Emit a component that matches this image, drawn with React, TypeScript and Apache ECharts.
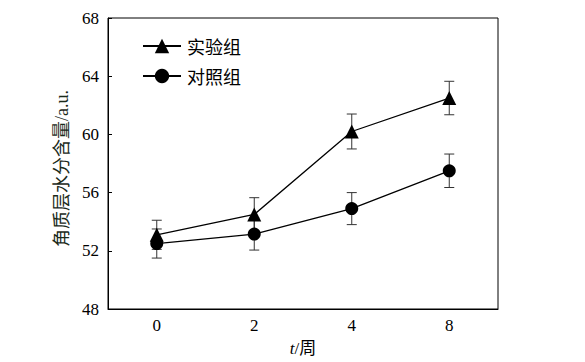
import React, { useEffect, useRef } from "react";
import * as echarts from "echarts";

const categories = ["0", "2", "4", "8"];
const expMean = [53.1, 54.5, 60.2, 62.5];
const expErr = [1.0, 1.15, 1.2, 1.15];
const ctrlMean = [52.5, 53.15, 54.9, 57.5];
const ctrlErr = [1.0, 1.1, 1.1, 1.15];
const yTicks = { min: 48, max: 68, interval: 4 };

const FONT_SERIF = "'Liberation Serif', 'DejaVu Serif', serif";
const FONT_CJK = "'Liberation Serif', 'Noto Sans CJK SC', serif";

function errorData(mean: number[], err: number[]) {
  return mean.map((m, i) => [i, m - err[i], m + err[i]]);
}

function errorSeries(name: string, mean: number[], err: number[]) {
  return {
    type: "custom",
    name: name + "_err",
    data: errorData(mean, err),
    z: 1,
    silent: true,
    renderItem: (params: any, api: any) => {
      const x = api.value(0);
      const lo = api.coord([x, api.value(1)]);
      const hi = api.coord([x, api.value(2)]);
      const w = 5;
      const style = { stroke: "#333", lineWidth: 1 };
      return {
        type: "group",
        children: [
          { type: "line", shape: { x1: hi[0], y1: hi[1], x2: lo[0], y2: lo[1] }, style },
          { type: "line", shape: { x1: hi[0] - w, y1: hi[1], x2: hi[0] + w, y2: hi[1] }, style },
          { type: "line", shape: { x1: lo[0] - w, y1: lo[1], x2: lo[0] + w, y2: lo[1] }, style },
        ],
      };
    },
  };
}

export default function App() {
  const ref = useRef<HTMLDivElement>(null);
  useEffect(() => {
    if (!ref.current) return;
    const chart = echarts.init(ref.current, undefined, { renderer: "svg" });
    chart.setOption({
      animation: false,
      backgroundColor: "#fff",
      grid: {
        left: 108,
        right: 87,
        top: 18,
        bottom: 53,
        show: true,
        borderColor: "#000",
        borderWidth: 1,
        backgroundColor: "transparent",
      },
      legend: {
        orient: "vertical",
        left: 137,
        top: 32,
        itemWidth: 38,
        itemHeight: 18,
        itemGap: 12,
        textStyle: { fontSize: 18, color: "#000", fontFamily: "'Noto Sans CJK SC'", padding: [0, 0, 0, 1] },
        data: ["实验组", "对照组"],
      },
      xAxis: {
        type: "category",
        data: categories,
        boundaryGap: true,
        name: "{i|t}/周",
        nameLocation: "middle",
        nameGap: 31,
        nameTextStyle: {
          fontSize: 17,
          color: "#000",
          fontFamily: FONT_CJK,
          rich: {
            i: { fontStyle: "italic", fontSize: 17, fontFamily: FONT_SERIF, color: "#000" },
          },
        },
        axisLine: { lineStyle: { color: "#000", width: 1 } },
        axisTick: { inside: true, alignWithLabel: true, length: 4, lineStyle: { color: "#000" } },
        axisLabel: { fontSize: 17, color: "#000", fontFamily: FONT_SERIF, margin: 8 },
        splitLine: { show: false },
      },
      yAxis: {
        type: "value",
        min: yTicks.min,
        max: yTicks.max,
        interval: yTicks.interval,
        name: "角质层水分含量/a.u.",
        nameLocation: "middle",
        nameGap: 37,
        nameTextStyle: { fontSize: 18, color: "#1a2a1a", fontFamily: FONT_CJK, padding: [0, 10, 0, 0] },
        axisLine: { show: true, lineStyle: { color: "#000", width: 1 } },
        axisTick: { show: true, inside: true, length: 4, lineStyle: { color: "#000" } },
        axisLabel: { fontSize: 17, color: "#000", fontFamily: FONT_SERIF, margin: 9 },
        splitLine: { show: false },
      },
      series: [
        errorSeries("实验组", expMean, expErr),
        errorSeries("对照组", ctrlMean, ctrlErr),
        {
          type: "line",
          name: "实验组",
          data: expMean,
          symbol: "triangle",
          symbolSize: 14,
          z: 3,
          lineStyle: { color: "#000", width: 1.3 },
          itemStyle: { color: "#000" },
        },
        {
          type: "line",
          name: "对照组",
          data: ctrlMean,
          symbol: "circle",
          symbolSize: 13,
          z: 3,
          lineStyle: { color: "#000", width: 1.3 },
          itemStyle: { color: "#000" },
        },
      ],
    });
    return () => chart.dispose();
  }, []);
  return <div ref={ref} style={{ width: 585, height: 362, position: "absolute", left: 0, top: 0 }} />;
}
